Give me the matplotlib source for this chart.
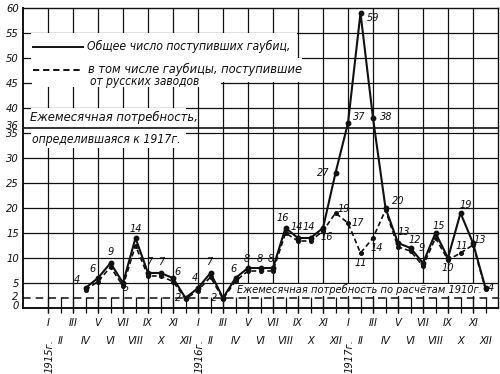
import matplotlib
matplotlib.use('Agg')
import matplotlib.pyplot as plt
from matplotlib.patches import Rectangle
from matplotlib.transforms import blended_transform_factory, ScaledTranslation

# ---------------- data ----------------
month_labels = ['I', 'II', 'III', 'IV', 'V', 'VI', 'VII', 'VIII', 'IX', 'X', 'XI', 'XII'] * 3
year_labels = ['1915г.', '1916г.', '1917г.']
y_ticks = [0, 2, 5, 10, 15, 20, 25, 30, 35, 36, 40, 45, 50, 55, 60]
first_month = 3  # IV 1915
# total number of howitzers received per month (IV 1915 .. XII 1917)
total = [4, 6, 9, 5, 14, 7, 7, 6, 2,
         4, 7, 2, 6, 8, 8, 8, 16, 14, 14, 16, 27,
         37, 59, 38, 20, 13, 12, 9, 15, 10, 19, 13, 4]
# of which from Russian factories
russian = [3.6, 5.3, 8.2, 4.4, 12.5, 6.4, 6.4, 5.3, 1.8,
           3.5, 6.2, 1.8, 5.4, 7.4, 7.4, 7.4, 15, 13.4, 13.4, 15.4, 19,
           17, 11, 14, 19.6, 12.2, 11.4, 8.4, 14, 9.6, 11, 12.6, 3.8]
russian_labelled = [20, 21, 22, 23, 30]
need_1917 = 36
need_1910 = 2

legend_total = 'Общее число поступивших гаубиц,'
legend_russian = ['в том числе гаубицы, поступившие', 'от русских заводов']
need_1917_text = ['Ежемесячная потребность,', 'определившаяся к 1917г.']
need_1910_text = 'Ежемесячная потребность по расчётам 1910г.'

# ---------------- style ----------------
plt.rcParams['font.family'] = ['DejaVu Sans']
plt.rcParams['font.style'] = 'italic'
plt.rcParams['font.stretch'] = 'condensed'
INK = '#111111'
FS = 8

fig = plt.figure(figsize=(5, 3.74), dpi=100)
ax = fig.add_axes([23 / 500, 66 / 374, 475 / 500, 300 / 374])
n_months = len(month_labels)
ax.set_xlim(-2, n_months)
ax.set_ylim(0, 60)

# grid
for y in range(5, 60, 5):
    ax.axhline(y, color=INK, lw=0.9, zorder=1)
for i in range(0, n_months, 2):
    ax.vlines(i, -0.9, 60, color=INK, lw=0.9, zorder=1, clip_on=False)
ax.vlines(range(n_months), -0.9, need_1910 + 0.3, color=INK, lw=0.9, zorder=1, clip_on=False)

# requirement lines
ax.axhline(need_1910, color=INK, lw=1.1, dashes=(5, 3.3), zorder=1.5)
ax.axhline(need_1917, color=INK, lw=1.2, zorder=3)

for s in ax.spines.values():
    s.set_color(INK)
    s.set_linewidth(1.0)
ax.spines['left'].set_linewidth(1.4)
ax.spines['bottom'].set_linewidth(1.4)

# white boxes behind annotation texts
for (x0, y0, w, h) in [(-1.4, 50, 21.3, 5), (-1.4, 45.3, 21.7, 4.7), (-1.3, 44.2, 15.1, 1.4),
                       (-1.4, 32, 12.4, 8), (15.1, 2.35, 19.3, 2.55)]:
    ax.add_patch(Rectangle((x0, y0), w, h, facecolor='white', edgecolor='none', zorder=2))

# legend samples and texts
ax.plot([-1.2, 2.8], [52.2, 52.2], color=INK, lw=1.4, zorder=3)
ax.plot([-1.2, 2.6], [47.6, 47.6], color=INK, lw=1.4, dashes=(3.2, 2.0), zorder=3)
fit_texts = []
t = ax.text(3.1, 52.3, legend_total, fontsize=FS, va='center', ha='left', color=INK, zorder=3)
fit_texts.append((t, 203))
t = ax.text(3.2, 47.7, legend_russian[0], fontsize=FS, va='center', ha='left', color=INK, zorder=3)
fit_texts.append((t, 214))
ax.text(3.35, 45.2, legend_russian[1], fontsize=8.6, va='center', ha='left', color=INK, zorder=3)
t = ax.text(-1.45, 38.2, need_1917_text[0], fontsize=FS, va='center', ha='left', color=INK, zorder=3)
fit_texts.append((t, 167))
t = ax.text(-1.3, 33.6, need_1917_text[1], fontsize=FS, va='center', ha='left', color=INK, zorder=3)
fit_texts.append((t, 148))
t = ax.text(15.1, 3.7, need_1910_text, fontsize=FS, va='center', ha='left', color=INK, zorder=3)
fit_texts.append((t, 243))

# data
xs = list(range(first_month, first_month + len(total)))
ax.plot(xs, russian, color=INK, lw=1.2, dashes=(3.0, 1.8), marker='o', ms=2.6, zorder=5)
ax.plot(xs, total, color=INK, lw=1.5, marker='o', ms=3.2, zorder=6)

# value labels (offsets in pixels)
total_off = [(-9, 8), (-5, 9), (0, 11), (3, -5), (0, 9), (1, 11), (1, 11), (5, 6), (-7, 0),
             (-3, 10), (-1, 11), (-9, 0), (-2, 9), (-1, 9), (-1, 9), (-2, 9), (-3, 10), (-1, 11), (-2, 11), (4, -9), (-12, 0),
             (11, 6), (13, -5), (13, 1), (13, 7), (6, 11), (4, 8), (-1, 15), (3, 7), (0, -10), (5, 8), (7, 3), (5, 0)]
russian_off = [(8, 4), (10, 0), (0, -10), (4, -10), (1, 7)]
px = 0.72
LFS = 7.8
for x, v, (dx, dy) in zip(xs, total, total_off):
    ax.annotate(f'{v:g}', (x, v), xytext=(dx * px, dy * px), textcoords='offset points',
                ha='center', va='center', fontsize=LFS, color=INK, zorder=4)
for k, (dx, dy) in zip(russian_labelled, russian_off):
    ax.annotate(f'{round(russian[k])}', (xs[k], russian[k]), xytext=(dx * px, dy * px),
                textcoords='offset points', ha='center', va='center', fontsize=LFS, color=INK, zorder=4)

# y axis
ax.set_yticks(y_ticks)
ax.set_yticklabels([str(t) for t in y_ticks], fontsize=FS, color=INK)
ax.tick_params(axis='y', length=0, pad=3)
for lab in ax.get_yticklabels():
    shift = {'36': 3, '0': 3, '2': 2}.get(lab.get_text(), 0)
    if shift:
        lab.set_transform(lab.get_transform() + ScaledTranslation(0, shift / 100, fig.dpi_scale_trans))

# x axis: odd months on first row, even months on second row
ax.set_xticks(range(0, n_months, 2))
ax.set_xticklabels(month_labels[0::2], fontsize=FS, color=INK)
ax.set_xticks(range(1, n_months, 2), minor=True)
ax.set_xticklabels(month_labels[1::2], minor=True, fontsize=FS, color=INK)
ax.tick_params(axis='x', which='major', length=0, pad=7)
ax.tick_params(axis='x', which='minor', length=0, pad=20)

trans = blended_transform_factory(ax.transData, ax.transAxes)
for k, yl in enumerate(year_labels):
    ax.text(12 * k + 0.1, -0.16, yl, transform=trans, rotation=90, ha='center', va='center',
            fontsize=FS, color=INK)

# fit long annotation texts to the widths they have in the reference
fig.canvas.draw()
r = fig.canvas.get_renderer()
for t, w in fit_texts:
    bw = t.get_window_extent(r).width
    t.set_fontsize(t.get_fontsize() * w / bw)

fig.savefig('out.png', dpi=100)
